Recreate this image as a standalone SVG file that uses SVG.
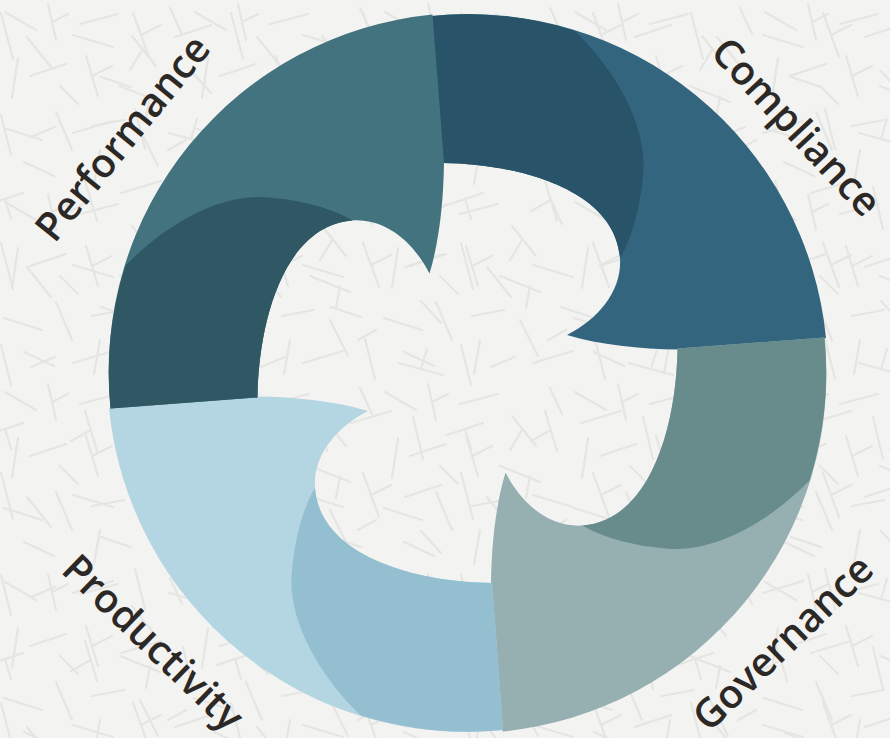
<svg xmlns="http://www.w3.org/2000/svg" xmlns:xlink="http://www.w3.org/1999/xlink" width="890" height="738" viewBox="0 0 890 738">
  <style>
    .stick { stroke: #e5e5e3; stroke-width: 2.2; stroke-linecap: round; fill: none; }
    .label { font-family: "Open Sans", "Noto Sans", "Liberation Sans", sans-serif; font-size: 40px; font-weight: 600; fill: #2b2826; text-anchor: middle; dominant-baseline: middle; }
  </style>
  <defs>
    <pattern id="tex1" width="190" height="190" patternUnits="userSpaceOnUse">
      <path class="stick" d="M5,12 L36,30 M48,4 L56,40 M52,22 L68,14 M80,24 L118,14 M132,36 L156,66 M142,50 L130,70 M170,8 L182,34 M18,58 L12,98 M30,76 L66,64 M86,56 L98,96 M92,76 L112,66 M120,86 L160,102 M150,96 L146,118 M4,128 L42,140 M56,112 L72,150 M92,126 L124,120 M140,130 L158,166 M24,162 L54,176 M100,150 L94,184 M168,150 L186,140 M60,86 L78,104"/>
    </pattern>
    <pattern id="tex2" width="230" height="230" patternUnits="userSpaceOnUse" patternTransform="translate(61 97)">
      <path class="stick" d="M12,36 L52,24 M74,12 L84,52 M108,36 L152,48 M130,42 L136,22 M170,18 L180,58 M200,40 L224,30 M24,84 L36,124 M28,104 L10,114 M60,96 L100,84 M122,90 L132,132 M156,108 L192,96 M174,102 L180,122 M12,168 L52,180 M72,146 L88,190 M80,168 L100,158 M114,170 L150,158 M170,146 L182,192 M196,170 L220,200 M40,210 L70,220 M130,204 L150,226"/>
    </pattern>
    <path id="pieceFull" d="M443,163 L432,16 A359,359 0 0 1 826,338 L678,349.5 C640,349 600,345 567,335 C600,318 622,290 620,258 C615,190 520,164 443,163 Z"/>
    <path id="pieceDark" d="M443,163 L432,16 A359,359 0 0 1 575,31 C620,75 648,130 643,175 C640,210 631,240 620,258 C615,190 520,164 443,163 Z"/>
  </defs>

  <rect x="0" y="0" width="890" height="738" fill="#f3f3f1"/>
  <rect x="0" y="0" width="890" height="738" fill="url(#tex1)"/>
  <rect x="0" y="0" width="890" height="738" fill="url(#tex2)"/>

  <g id="connectors"/>

  <g id="node-compliance">
    <use xlink:href="#pieceFull" fill="#33667e"/>
    <use xlink:href="#pieceDark" fill="#285369"/>
    <text class="label" transform="translate(794 129) rotate(47)">Compliance</text>
  </g>

  <g id="node-governance">
    <use xlink:href="#pieceFull" fill="#96b0b1" transform="rotate(90 467.5 373)"/>
    <use xlink:href="#pieceDark" fill="#688c8c" transform="rotate(90 467.5 373)"/>
    <text class="label" transform="translate(785 645) rotate(-44)">Governance</text>
  </g>

  <g id="node-productivity">
    <use xlink:href="#pieceFull" fill="#b4d5e2" transform="rotate(180 467.5 373)"/>
    <use xlink:href="#pieceDark" fill="#93bfd0" transform="rotate(180 467.5 373)"/>
    <text class="label" transform="translate(151 645) rotate(44)">Productivity</text>
  </g>

  <g id="node-performance">
    <use xlink:href="#pieceFull" fill="#43737f" transform="rotate(270 467.5 373)"/>
    <use xlink:href="#pieceDark" fill="#2f5864" transform="rotate(270 467.5 373)"/>
    <text class="label" transform="translate(125 140) rotate(-51)">Performance</text>
  </g>
</svg>
